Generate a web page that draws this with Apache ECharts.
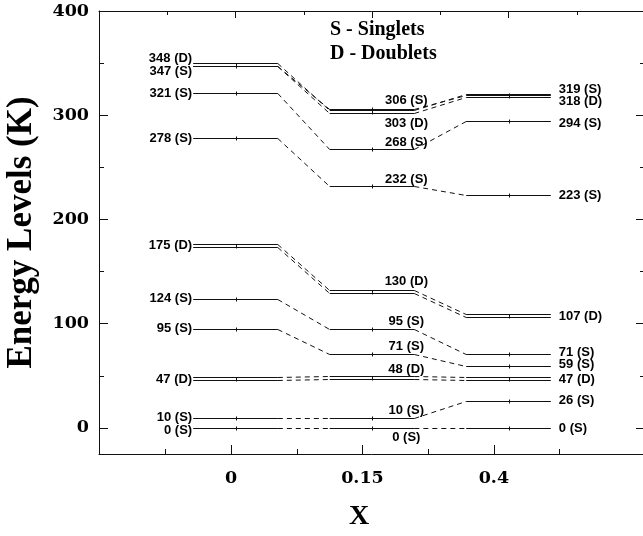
<!DOCTYPE html>
<html>
<head>
<meta charset="utf-8">
<script src="https://cdn.jsdelivr.net/npm/echarts@6/dist/echarts.min.js"></script>
<style>
  html, body { margin: 0; padding: 0; background: #fff; }
  #chart { width: 643px; height: 536px; }
</style>
</head>
<body>
<div id="chart"></div>
<script>
// Composition columns along the x axis
const compositions = ['0', '0.15', '0.4'];

// Energy levels (K) in each column and their multiplicity (S = singlet, D = doublet)
const levelsX0   = [348, 347, 321, 278, 175, 124, 95, 47, 10, 0];
const kindsX0    = ['D', 'S', 'S', 'S', 'D', 'S', 'S', 'D', 'S', 'S'];
const levelsX015 = [306, 303, 268, 232, 130, 95, 71, 48, 10, 0];
const kindsX015  = ['S', 'D', 'S', 'S', 'D', 'S', 'S', 'D', 'S', 'S'];
const levelsX04  = [319, 318, 294, 223, 107, 71, 59, 47, 26, 0];
const kindsX04   = ['S', 'D', 'S', 'S', 'D', 'S', 'S', 'D', 'S', 'S'];

// How each level continues into the next column (index into the next column's list)
const linkX0toX015  = [1, 0, 2, 3, 4, 5, 6, 7, 8, 9];
const linkX015toX04 = [0, 1, 2, 3, 4, 5, 6, 7, 8, 9];

// Energy axis ticks
const yMajorTicks = [0, 100, 200, 300, 400];
const yMinorTicks = [50, 150, 250, 350];

// ---- drawing setup ----
const columns = [
  { levels: levelsX0,   kinds: kindsX0 },
  { levels: levelsX015, kinds: kindsX015 },
  { levels: levelsX04,  kinds: kindsX04 }
];
const links = [linkX0toX015, linkX015toX04];

const HALF = 0.31;            // half length of a level bar, in column units
const INK = '#111';
const LABEL_FONT = 'bold 13px "Liberation Sans", Arial, sans-serif';
const SERIF = '"Liberation Serif", "Times New Roman", serif';
const TICK_FONT = '"DejaVu Serif", serif';

// vertical label nudges (px) where neighbouring labels would collide
const labelShift = {
  '0:348': -7, '0:347': 5, '0:0': 2,
  '1:306': -9, '1:303': 11, '1:268': -6, '1:232': -7, '1:130': -11,
  '1:95': -7, '1:71': -8, '1:48': -8, '1:10': -7, '1:0': 9,
  '2:319': -6, '2:318': 5, '2:294': 2, '2:71': -2, '2:59': -2
};

const levelData = [];
columns.forEach((c, ci) => {
  c.levels.forEach((e, i) => levelData.push([ci, e, c.kinds[i] === 'D' ? 1 : 0]));
});

const linkData = [];
links.forEach((map, ci) => {
  const from = columns[ci], to = columns[ci + 1];
  map.forEach((j, i) => {
    linkData.push([ci, from.levels[i], to.levels[j], from.kinds[i] === 'D' ? 1 : 0]);
  });
});

const crisp = v => Math.round(v) + 0.5;

function renderLevel(params, api) {
  const col = api.value(0), e = api.value(1), dbl = api.value(2) === 1;
  const kind = dbl ? 'D' : 'S';
  const a = api.coord([col - HALF, e]);
  const b = api.coord([col + HALF, e]);
  const c = api.coord([col, e]);
  const y0 = Math.round(a[1]);
  const offs = dbl ? [-1.5, 1.5] : [0.5];
  const children = offs.map(o => ({
    type: 'line',
    shape: { x1: a[0], y1: y0 + o, x2: b[0], y2: y0 + o },
    style: { stroke: INK, lineWidth: 1 }
  }));
  // small mark at the column position
  children.push({
    type: 'line',
    shape: { x1: crisp(c[0]), y1: y0 - 1.5, x2: crisp(c[0]), y2: y0 + 2.5 },
    style: { stroke: INK, lineWidth: 1 }
  });
  const dy = labelShift[col + ':' + e] || 0;
  let lx, align;
  if (col === 0) { lx = a[0] - 1; align = 'right'; }
  else if (col === 1) { lx = b[0] - 8; align = 'center'; }
  else { lx = b[0] + 8; align = 'left'; }
  children.push({
    type: 'text',
    style: {
      text: e + ' (' + kind + ')',
      x: lx, y: a[1] + dy,
      align: align, verticalAlign: 'middle',
      font: LABEL_FONT, fill: '#000'
    }
  });
  return { type: 'group', children };
}

function renderLink(params, api) {
  const col = api.value(0), eFrom = api.value(1), eTo = api.value(2), dbl = api.value(3) === 1;
  const p = api.coord([col + HALF, eFrom]);
  const q = api.coord([col + 1 - HALF, eTo]);
  const offs = dbl ? [-1.5, 1.5] : [0.5];
  const y1 = Math.round(p[1]), y2 = Math.round(q[1]);
  return {
    type: 'group',
    children: offs.map(o => ({
      type: 'line',
      shape: { x1: p[0], y1: y1 + o, x2: q[0], y2: y2 + o },
      style: { stroke: INK, lineWidth: 1, lineDash: [5, 4] }
    }))
  };
}

const axisLine = { show: true, onZero: false, lineStyle: { color: INK, width: 1 } };
const noLine = { show: false, onZero: false };

const chart = echarts.init(document.getElementById('chart'), null, { renderer: 'canvas' });
chart.setOption({
  animation: false,
  backgroundColor: '#fff',
  grid: { left: 99, top: 11, width: 546, height: 443, containLabel: false, outerBoundsMode: 'none' },
  xAxis: [
    { // column axis along the top frame
      type: 'value', position: 'top', min: -1, max: 3, interval: 1,
      axisLine: axisLine,
      axisTick: { show: true, inside: true, length: 7, lineStyle: { color: INK } },
      minorTick: { show: true, splitNumber: 2, length: 4, lineStyle: { color: INK } },
      axisLabel: { show: false }, splitLine: { show: false }, minorSplitLine: { show: false }
    },
    { // labelled composition axis
      type: 'value', position: 'bottom', min: -1.005, max: 3.15,
      axisLine: axisLine,
      axisTick: { show: true, inside: true, length: 9, customValues: [0, 1, 2], lineStyle: { color: INK } },
      axisLabel: {
        show: true, customValues: [0, 1, 2], margin: 15,
        formatter: v => compositions[Math.round(v)],
        fontFamily: TICK_FONT, fontWeight: 'bold', fontSize: 17.5, color: '#000'
      },
      splitLine: { show: false },
      name: 'X', nameLocation: 'middle', nameGap: 49,
      nameTextStyle: { fontFamily: SERIF, fontWeight: 'bold', fontSize: 28, color: '#000', padding: [0, 26, 0, 0] }
    },
    { // intermediate ticks on the bottom frame
      type: 'value', position: 'bottom', min: -1.005, max: 3.15,
      axisLine: noLine,
      axisTick: { show: true, inside: true, length: 5, customValues: [-0.5, 0.5, 1.5, 2.5], lineStyle: { color: INK } },
      axisLabel: { show: false }, splitLine: { show: false }
    }
  ],
  yAxis: [
    {
      type: 'value', position: 'left', min: -25, max: 400,
      axisLine: axisLine,
      axisTick: { show: true, inside: true, length: 9, customValues: yMajorTicks, lineStyle: { color: INK } },
      axisLabel: {
        show: true, customValues: yMajorTicks, margin: 10,
        fontFamily: TICK_FONT, fontWeight: 'bold', fontSize: 17.5, color: '#000'
      },
      splitLine: { show: false },
      name: 'Energy Levels (K)', nameLocation: 'middle', nameGap: 60,
      nameTextStyle: { fontFamily: SERIF, fontWeight: 'bold', fontSize: 35, color: '#000' }
    },
    {
      type: 'value', position: 'left', min: -25, max: 400,
      axisLine: noLine,
      axisTick: { show: true, inside: true, length: 5, customValues: yMinorTicks, lineStyle: { color: INK } },
      axisLabel: { show: false }, splitLine: { show: false }
    },
    {
      type: 'value', position: 'right', min: -25, max: 400,
      axisLine: axisLine,
      axisTick: { show: true, inside: true, length: 9, customValues: yMajorTicks, lineStyle: { color: INK } },
      axisLabel: { show: false }, splitLine: { show: false }
    },
    {
      type: 'value', position: 'right', min: -25, max: 400,
      axisLine: noLine,
      axisTick: { show: true, inside: true, length: 5, customValues: yMinorTicks, lineStyle: { color: INK } },
      axisLabel: { show: false }, splitLine: { show: false }
    }
  ],
  graphic: [
    { type: 'text', x: 330, y: 30, style: { text: 'S - Singlets', font: 'bold 20px ' + SERIF, fill: '#000', verticalAlign: 'middle' } },
    { type: 'text', x: 330, y: 54, style: { text: 'D - Doublets', font: 'bold 20px ' + SERIF, fill: '#000', verticalAlign: 'middle' } }
  ],
  series: [
    {
      name: 'correlations', type: 'custom', xAxisIndex: 0, yAxisIndex: 0,
      renderItem: renderLink, data: linkData, silent: true
    },
    {
      name: 'levels', type: 'custom', xAxisIndex: 0, yAxisIndex: 0,
      renderItem: renderLevel, data: levelData, silent: true
    }
  ]
});
</script>
</body>
</html>
